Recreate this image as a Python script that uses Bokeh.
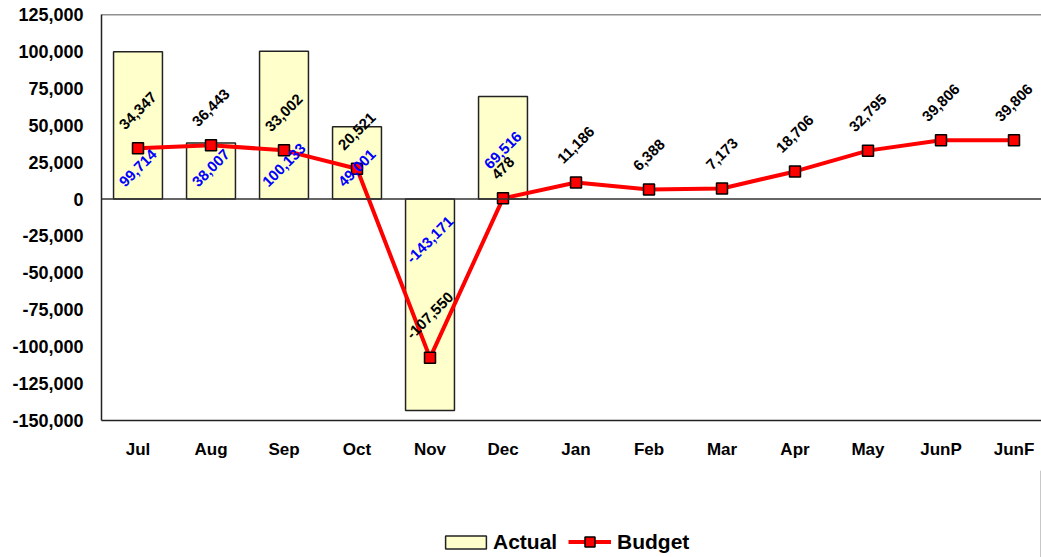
import math
from bokeh.plotting import figure
from bokeh.layouts import column
from bokeh.models import (Range1d, FixedTicker, NumeralTickFormatter, Span, Legend,
                          LegendItem, ColumnDataSource)
from bokeh.embed import file_html
from bokeh.resources import INLINE
from bokeh.core.properties import value

# ---------------- data ----------------
months = ["Jul", "Aug", "Sep", "Oct", "Nov", "Dec", "Jan", "Feb", "Mar", "Apr", "May", "JunP", "JunF"]
actual = [99714, 38007, 100133, 49001, -143171, 69516]          # Jul..Dec
budget = [34347, 36443, 33002, 20521, -107550, 478, 11186, 6388, 7173, 18706, 32795, 39806, 39806]
y_ticks = [-150000, -125000, -100000, -75000, -50000, -25000, 0, 25000, 50000, 75000, 100000, 125000]

# ---------------- style ----------------
FONT = "Liberation Sans"
W = 1041
H_MAIN, H_LEG = 470, 87
BORDER_L, BORDER_T = 101, 14
FRAME_H = 406
SLOT = 73                      # px per category
LABEL_FS = 15
AXIS_COL = "#222222"
BAR_FILL, BAR_LINE = "#FFFFCC", AXIS_COL
LINE_COL = "#FF0000"

frame_w = W - BORDER_L
x_end = frame_w / SLOT - 0.5

p = figure(width=W, height=H_MAIN, output_backend="svg", toolbar_location=None,
           x_range=Range1d(-0.5, x_end), y_range=Range1d(y_ticks[0], y_ticks[-1]),
           min_border_left=BORDER_L, min_border_right=0, min_border_top=BORDER_T,
           min_border_bottom=H_MAIN - BORDER_T - FRAME_H)
p.outline_line_color = None
p.xgrid.visible = False
p.ygrid.visible = False
p.background_fill_color = "white"
p.border_fill_color = "white"

# y axis
p.yaxis.ticker = FixedTicker(ticks=y_ticks)
p.yaxis.formatter = NumeralTickFormatter(format="0,0")
p.yaxis.major_tick_line_color = None
p.yaxis.minor_tick_line_color = None
p.yaxis.major_tick_out = 0
p.yaxis.major_label_standoff = 18
p.yaxis.axis_line_color = AXIS_COL
p.yaxis.axis_line_width = 1.5
p.yaxis.major_label_text_font = FONT
p.yaxis.major_label_text_font_style = "bold"
p.yaxis.major_label_text_font_size = "18px"
p.yaxis.major_label_text_color = "black"

# x axis
p.xaxis.ticker = FixedTicker(ticks=list(range(len(months))))
p.xaxis.major_label_overrides = {i: m for i, m in enumerate(months)}
p.xaxis.major_tick_line_color = None
p.xaxis.minor_tick_line_color = None
p.xaxis.major_tick_out = 0
p.xaxis.major_label_standoff = 19
p.xaxis.axis_line_color = AXIS_COL
p.xaxis.axis_line_width = 1.5
p.xaxis.major_label_text_font = FONT
p.xaxis.major_label_text_font_style = "bold"
p.xaxis.major_label_text_font_size = "17px"
p.xaxis.major_label_text_color = "black"

# top border and zero line
p.add_layout(Span(location=y_ticks[-1], dimension="width", line_color=AXIS_COL, line_width=1.5))
p.add_layout(Span(location=0, dimension="width", line_color="#333333", line_width=1.5))

# bars
bars = p.vbar(x=list(range(len(actual))), top=actual, bottom=0, width=0.67,
              fill_color=BAR_FILL, line_color=BAR_LINE, line_width=1.5)

# budget line
xb = list(range(len(budget)))
p.line(x=xb, y=budget, line_color=LINE_COL, line_width=4)
p.scatter(x=xb, y=budget, marker="square", size=11, fill_color=LINE_COL,
          line_color="black", line_width=1.5)


def fmt(v):
    return f"{v:,}"


def half_extent(s, fs):
    wmap = {",": 0.278, "-": 0.333}
    w = fs * sum(wmap.get(c, 0.556) for c in s)
    return (w + 0.72 * fs) / (2 * math.sqrt(2))


# budget labels: above the point, rotated 45 deg
b_text = [fmt(v) for v in budget]
b_off = [-(17.5 + half_extent(t, LABEL_FS)) for t in b_text]
b_src = ColumnDataSource(dict(x=xb, y=budget, text=b_text, yo=b_off))
p.text(x="x", y="y", text="text", y_offset="yo", source=b_src, angle=math.pi / 4,
       text_align="center", text_baseline="middle", text_color="black",
       text_font=value(FONT), text_font_style="bold", text_font_size=f"{LABEL_FS}px")

# actual labels: inside base of each bar, rotated 45 deg, nudged if colliding with budget label
scale = FRAME_H / (y_ticks[-1] - y_ticks[0])
a_text = [fmt(v) for v in actual]
a_off = []
for i, (v, t) in enumerate(zip(actual, a_text)):
    off = -(11 + half_extent(t, LABEL_FS)) if v >= 0 else (16 + half_extent(t, LABEL_FS))
    b_center = -budget[i] * scale + b_off[i]
    if abs(off - b_center) < 20:
        off = b_center - 18
    a_off.append(off)
a_src = ColumnDataSource(dict(x=list(range(len(actual))), y=[0] * len(actual), text=a_text, yo=a_off))
p.text(x="x", y="y", text="text", y_offset="yo", source=a_src, angle=math.pi / 4,
       text_align="center", text_baseline="middle", text_color="#0000FF",
       text_font=value(FONT), text_font_style="bold", text_font_size=f"{LABEL_FS}px")

# ---------------- legend strip ----------------
pl = figure(width=W, height=H_LEG, output_backend="svg", toolbar_location=None,
            x_range=Range1d(0, 1), y_range=Range1d(0, 1),
            min_border_left=0, min_border_right=0, min_border_top=0, min_border_bottom=0)
pl.axis.visible = False
pl.grid.visible = False
pl.outline_line_color = None
pl.border_fill_color = "white"

# off-range swatch renderers that only carry the legend's glyph styles
leg_bar = pl.vbar(x=[5], top=[1], width=0.5, fill_color=BAR_FILL, line_color=BAR_LINE, line_width=1.5)
leg_line = pl.line(x=[5, 6], y=[5, 5], line_color=LINE_COL, line_width=4)
leg_pts = pl.scatter(x=[5], y=[5], marker="square", fill_color=LINE_COL, line_color="black", line_width=1.5)

common = dict(orientation="horizontal", padding=0, margin=0, spacing=0,
              border_line_color=None, background_fill_alpha=0,
              label_text_font=FONT, label_text_font_style="bold",
              label_text_font_size="21px", label_text_color="black")
# the strip's frame is aligned with the chart's frame, so x is measured from BORDER_L
leg1 = Legend(items=[LegendItem(label="Actual", renderers=[leg_bar])], location=(440 - BORDER_L, 3),
              glyph_width=51, glyph_height=16, label_standoff=2, **common)
leg2 = Legend(items=[LegendItem(label="Budget", renderers=[leg_line, leg_pts])], location=(568 - BORDER_L, 3),
              glyph_width=43, glyph_height=25, label_standoff=6, **common)
pl.add_layout(leg1)
pl.add_layout(leg2)

layout = column(p, pl, spacing=0)
open("out.html", "w").write(file_html(layout, INLINE))
